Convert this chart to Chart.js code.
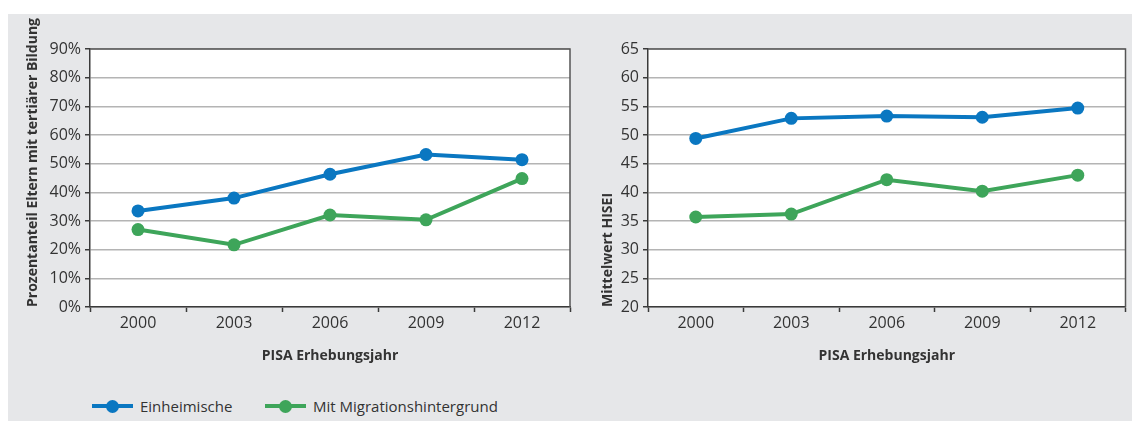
<!DOCTYPE html>
<html lang="de">
<head>
<meta charset="utf-8">
<title>PISA Erhebungsjahr – Bildung und HISEI</title>
<script src="https://cdn.jsdelivr.net/npm/chart.js@4.4.1/dist/chart.umd.min.js"></script>
<style>
  html, body { margin: 0; padding: 0; background: #fff; }
  body { width: 1132px; height: 421px; position: relative; overflow: hidden; font-family: 'Open Sans', sans-serif; }
  #panel { position: absolute; left: 8px; top: 14px; width: 1124px; height: 407px; background: #e6e7e9; }
  .chart { position: absolute; top: 14px; height: 360px; }
  #left { left: 8px; width: 572px; }
  #right { left: 580px; width: 552px; }
  #legend { position: absolute; left: 92px; top: 396px; height: 20px; font-size: 15px; color: #333; }
  .item { position: absolute; top: 0; white-space: nowrap; line-height: 20px; }
  .swatch { position: absolute; top: 8px; width: 41px; height: 4px; }
  .swatch i { position: absolute; left: 14px; top: -4.5px; width: 13px; height: 13px; border-radius: 50%; background: inherit; }
  .item span { position: absolute; left: 48px; top: 0; }
</style>
</head>
<body>
<div id="panel"></div>
<div class="chart" id="left"><canvas id="chartLeft"></canvas></div>
<div class="chart" id="right"><canvas id="chartRight"></canvas></div>
<div id="legend"></div>

<script>
// Erhebungsjahre
const years = ['2000', '2003', '2006', '2009', '2012'];

// Anteil Eltern mit tertiärer Bildung (in %)
const tertiaryNative = [33.5, 38.0, 46.3, 53.2, 51.4];
const tertiaryMigrant = [27.0, 21.7, 32.1, 30.4, 44.8];

// Mittelwert HISEI
const hiseiNative = [49.4, 52.9, 53.3, 53.1, 54.7];
const hiseiMigrant = [35.7, 36.2, 42.2, 40.2, 43.0];

const seriesNames = ['Einheimische', 'Mit Migrationshintergrund'];
const seriesColors = ['#0a77c1', '#3ea55a'];

const textColor = '#333333';
const axisColor = '#3a3a3a';
const gridColor = '#b4b4b4';

Chart.defaults.font.family = "'Open Sans', sans-serif";
Chart.defaults.color = textColor;
Chart.defaults.animation = false;

// Dunkler Rahmen oben und rechts um die Zeichenfläche
const framePlugin = {
  id: 'frame',
  afterDraw(chart) {
    const { ctx, chartArea: a } = chart;
    ctx.save();
    ctx.strokeStyle = '#555';
    ctx.lineWidth = 1.5;
    ctx.beginPath();
    ctx.moveTo(a.left, a.top);
    ctx.lineTo(a.right, a.top);
    ctx.lineTo(a.right, a.bottom);
    ctx.stroke();
    ctx.restore();
  }
};

// Weißer Hintergrund nur in der Zeichenfläche
const plotBgPlugin = {
  id: 'plotBg',
  beforeDraw(chart) {
    const { ctx, chartArea: a } = chart;
    ctx.save();
    ctx.fillStyle = '#fff';
    ctx.fillRect(a.left, a.top, a.right - a.left, a.bottom - a.top);
    ctx.restore();
  }
};

function makeDataset(label, data, color) {
  return {
    label,
    data,
    borderColor: color,
    backgroundColor: color,
    borderWidth: 4,
    pointRadius: 6.5,
    pointBorderWidth: 0,
    pointBackgroundColor: color,
    tension: 0
  };
}

function createLineChart(config) {
  const {
    canvasId,
    native,
    migrant,
    yTitle,
    yMin,
    yMax,
    yStep,
    yWidth,
    yTitlePad,
    padRight,
    tickFormat = v => String(v)
  } = config;

  const ctx = document.getElementById(canvasId).getContext('2d');

  return new Chart(ctx, {
    type: 'line',
    data: {
      labels: years,
      datasets: [
        makeDataset(seriesNames[0], native, seriesColors[0]),
        makeDataset(seriesNames[1], migrant, seriesColors[1])
      ]
    },
    options: {
      responsive: true,
      maintainAspectRatio: false,
      layout: { padding: { top: 35, right: padRight, left: 0, bottom: 10 } },
      plugins: {
        legend: { display: false },
        tooltip: { enabled: false }
      },
      scales: {
        x: {
          offset: true,
          grid: {
            offset: true,
            drawOnChartArea: false,
            drawTicks: true,
            tickLength: 5,
            tickColor: axisColor,
            tickWidth: 1.5
          },
          border: { color: axisColor, width: 1.5 },
          ticks: { font: { size: 16 }, color: textColor, padding: 2 },
          title: {
            display: true,
            text: 'PISA Erhebungsjahr',
            font: { size: 14, weight: 'bold' },
            color: textColor,
            padding: { top: 6, bottom: 0 }
          },
          afterFit(scale) { scale.height = 57; }
        },
        y: {
          min: yMin,
          max: yMax,
          grid: {
            color: gridColor,
            lineWidth: 1.5,
            drawTicks: true,
            tickLength: 5,
            tickColor: axisColor,
            tickWidth: 1.5
          },
          border: { color: axisColor, width: 1.5 },
          ticks: {
            stepSize: yStep,
            font: { size: 16 },
            color: textColor,
            padding: 4,
            callback: tickFormat
          },
          title: {
            display: true,
            text: yTitle,
            align: 'start',
            font: { size: 14, weight: 'bold' },
            color: textColor,
            padding: yTitlePad
          },
          afterFit(scale) { scale.width = yWidth; }
        }
      }
    },
    plugins: [plotBgPlugin, framePlugin]
  });
}

createLineChart({
  canvasId: 'chartLeft',
  native: tertiaryNative,
  migrant: tertiaryMigrant,
  yTitle: 'Prozentanteil Eltern mit tertiärer Bildung',
  yMin: 0,
  yMax: 90,
  yStep: 10,
  yWidth: 82,
  yTitlePad: { top: 17, bottom: 0 },
  padRight: 10,
  tickFormat: v => v + '%'
});

createLineChart({
  canvasId: 'chartRight',
  native: hiseiNative,
  migrant: hiseiMigrant,
  yTitle: 'Mittelwert HISEI',
  yMin: 20,
  yMax: 65,
  yStep: 5,
  yWidth: 68,
  yTitlePad: { top: 20, bottom: 0 },
  padRight: 5
});

// Legende unterhalb beider Diagramme
const legendEl = document.getElementById('legend');
const legendOffsets = [0, 173];
seriesNames.forEach((name, i) => {
  const item = document.createElement('div');
  item.className = 'item';
  item.style.left = legendOffsets[i] + 'px';
  item.innerHTML = '<div class="swatch" style="background:' + seriesColors[i] + '"><i></i></div><span>' + name + '</span>';
  legendEl.appendChild(item);
});
</script>
</body>
</html>
